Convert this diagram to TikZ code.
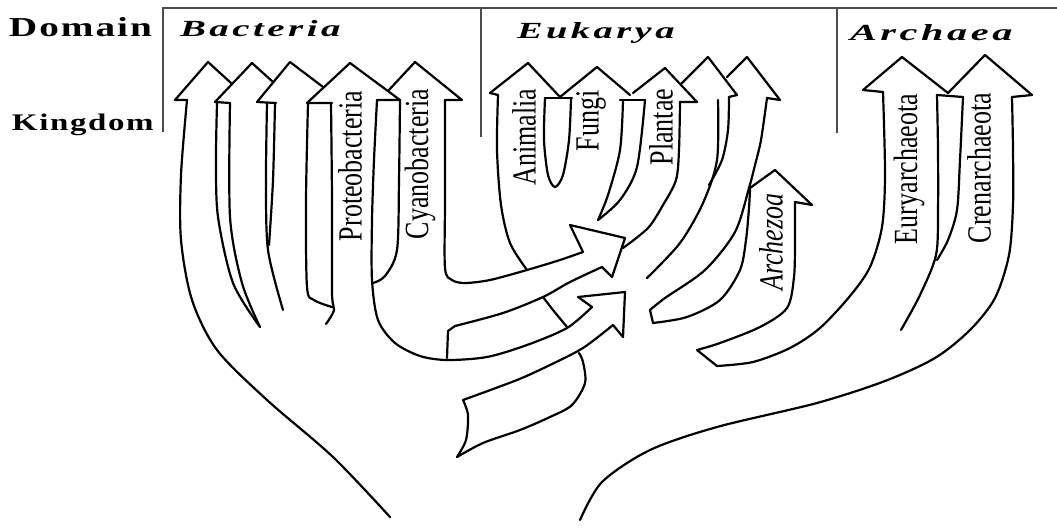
\documentclass[tikz,border=0pt]{standalone}
\usepackage{fontspec}
\setmainfont{Liberation Serif}
\usepackage{graphicx}
\newcommand\vlab[1]{\rotatebox{90}{\scalebox{1}[1.3]{\fontsize{26}{26}\selectfont #1}}}
\begin{document}
\begin{tikzpicture}[x=1pt,y=-1pt,
  ln/.style={line width=2.2pt,line cap=round,line join=round},
  fr/.style={line width=1.8pt,black!70},
  lab/.style={inner sep=0pt,outer sep=0pt}]
\useasboundingbox (0,0) rectangle (1057,529);

% frame
\draw[fr] (163,132) -- (163,8) -- (1057,8);
\draw[fr] (481,8) -- (481,137);
\draw[fr] (837,8) -- (837,133);

% headings
\node[lab,anchor=base west] (domain) at (9,37) {\resizebox{141pt}{19pt}{\bfseries\addfontfeature{LetterSpace=5}Domain\kern-.05em}};
\node[lab,anchor=base west] (kingdom) at (12,131) {\resizebox{140pt}{16.5pt}{\bfseries\addfontfeature{LetterSpace=5}Kingdom\kern-.05em}};
\node[lab,anchor=base west] (bacteria) at (180,37) {\resizebox{157pt}{16pt}{\bfseries\itshape\addfontfeature{LetterSpace=9}Bacteria\kern-.09em}};
\node[lab,anchor=base west] (eukarya) at (517,39) {\resizebox{154pt}{16pt}{\bfseries\itshape\addfontfeature{LetterSpace=9}Eukarya\kern-.09em}};
\node[lab,anchor=base west] (archaea) at (850,41) {\resizebox{159pt}{16pt}{\bfseries\itshape\addfontfeature{LetterSpace=9}Archaea\kern-.09em}};

% Bacteria heads
\draw[ln] (187,100) -- (175,100) -- (208,62) -- (231,83);
\draw[ln] (230,103) -- (215,102) -- (252,63) -- (273,82);
\draw[ln] (276,103) -- (257,102) -- (290,62) -- (323,87);
\draw[ln] (332,103) -- (307,103) -- (350,63) -- (400,100) -- (377,100);
\draw[ln] (388,91) -- (415,62) -- (462,100) -- (445,100);

% Bacteria shafts
\draw[ln] plot[smooth] coordinates {(187,100) (181,175) (181,240) (192,300) (217,350) (267,400) (333,457) (390,517)};
\draw[ln] plot[smooth] coordinates {(217,103) (216,160) (218,217) (233,283) (260,327)};
\draw[ln] plot[smooth] coordinates {(230,103) (230,217) (242,283) (260,327)};
\draw[ln] plot[smooth] coordinates {(267,103) (266,180) (268,250) (283,310)};
\draw[ln] plot[smooth] coordinates {(275,103) (273,180) (269,245)};
\draw[ln] plot[smooth] coordinates {(308,103) (306,200) (307,287) (314,300) (332,307)};
\draw[ln] plot[smooth] coordinates {(331,103) (332,200) (332,293) (334,310) (326,324)};
\draw[ln] plot[smooth] coordinates {(400,100) (399,180) (397,250) (385,276) (373,283)};

% Proteobacteria -> mitochondrion arrow, Eukarya trunk
\draw[ln] plot[smooth] coordinates {(377,100) (374,160) (372,220) (372,280) (378,320) (395,343) (420,356) (447,360) (487,357) (527,345) (567,328) (592,307)} -- (578,297) -- (625,292) -- (623,337) -- (613,325);
\draw[ln] plot[smooth] coordinates {(613,325) (583,348) (550,365) (517,380) (463,400)};
\draw[ln] plot[smooth] coordinates {(463,400) (468,415) (466,440) (457,457)};
\draw[ln] plot[smooth] coordinates {(457,457) (483,443) (520,430) (550,417) (572,405) (585,383) (583,362) (579,353)};

% Cyanobacteria -> chloroplast arrow
\draw[ln] plot[smooth] coordinates {(445,100) (445,200) (445,268) (452,280) (465,283) (490,280) (527,270) (560,260) (583,252)} -- (570,225) -- (625,238) -- (612,277) -- (602,267);
\draw[ln] plot[smooth] coordinates {(602,267) (570,282) (543,297) (503,313) (455,326)} -- (448,331) -- (447,358);

% Eukarya heads
\draw[ln] (498,95) -- (490,93) -- (528,63) -- (560,97) -- (597,67) -- (630,95);
\draw[ln] (545,98) -- (572,98);
\draw[ln] plot[smooth] coordinates {(545,98) (544,140) (548,175) (555,187) (563,175) (569,140) (571,99)};
\draw[ln] (620,100) -- (645,100);
\draw[ln] plot[smooth] coordinates {(623,100) (620,150) (608,195) (598,220)};
\draw[ln] plot[smooth] coordinates {(645,100) (637,167) (620,200) (598,220)};
\draw[ln] (633,93) -- (665,68) -- (697,102) -- (680,102);
\draw[ln] (681,84) -- (708,57) -- (737,95) -- (729,97);
\draw[ln] (727,77) -- (747,57) -- (780,100) -- (767,98);

% Eukarya shafts
\draw[ln] plot[smooth] coordinates {(498,95) (497,150) (501,205) (510,243) (527,270)};
\draw[ln] plot[smooth] coordinates {(543,297) (553,310) (567,327)};
\draw[ln] plot[smooth] coordinates {(680,102) (679,150) (676,180) (663,205) (648,228) (623,248)};
\draw[ln] plot[smooth] coordinates {(718,100) (717,160) (703,203) (680,243) (647,278)};
\draw[ln] plot[smooth] coordinates {(729,97) (728,130) (722,160) (709,185)};
\draw[ln] plot[smooth] coordinates {(767,98) (761,140) (755,165) (749,188) (735,232) (705,270) (665,298) (650,310)} -- (653,323);
\draw[ln] plot[smooth] coordinates {(653,323) (687,317) (720,300) (740,270) (746,240) (749,208) (750,189)};

% Archezoa
\draw[ln] (750,188) -- (775,170) -- (812,205) -- (795,202);
\draw[ln] plot[smooth] coordinates {(795,202) (795,240) (794,277) (787,308) (760,327) (720,343) (697,350)} -- (717,366);
\draw[ln] plot[smooth] coordinates {(717,366) (753,362) (790,348) (820,328) (850,296) (870,267) (882,227) (885,175) (883,92)};

% Archaea
\draw[ln] (883,92) -- (863,90) -- (902,57) -- (948,93) -- (985,55) -- (1032,95) -- (1012,97);
\draw[ln] (937,95) -- (963,97);
\draw[ln] plot[smooth] coordinates {(937,95) (938,150) (938,210) (936,255) (920,295) (901,330)};
\draw[ln] plot[smooth] coordinates {(963,97) (960,160) (957,210) (948,240) (937,260)};
\draw[ln] plot[smooth] coordinates {(1012,97) (1013,150) (1013,205) (1009,255) (995,298) (970,330) (935,358) (885,381) (817,403) (717,427) (650,450) (602,482) (580,520)};

% kingdom labels
\node[lab] (proteo) at (350,166) {\vlab{Proteobacteria}};
\node[lab] (cyano) at (420,164) {\vlab{Cyanobacteria}};
\node[lab] (animalia) at (524,137) {\vlab{Animalia}};
\node[lab] (fungi) at (591,121) {\vlab{Fungi}};
\node[lab] (plantae) at (661,127) {\vlab{Plantae}};
\node[lab] (archezoa) at (771,242) {\vlab{\itshape Archezoa}};
\node[lab] (eury) at (909,169) {\vlab{Euryarchaeota}};
\node[lab] (cren) at (979,168) {\vlab{Crenarchaeota}};
\end{tikzpicture}
\end{document}
